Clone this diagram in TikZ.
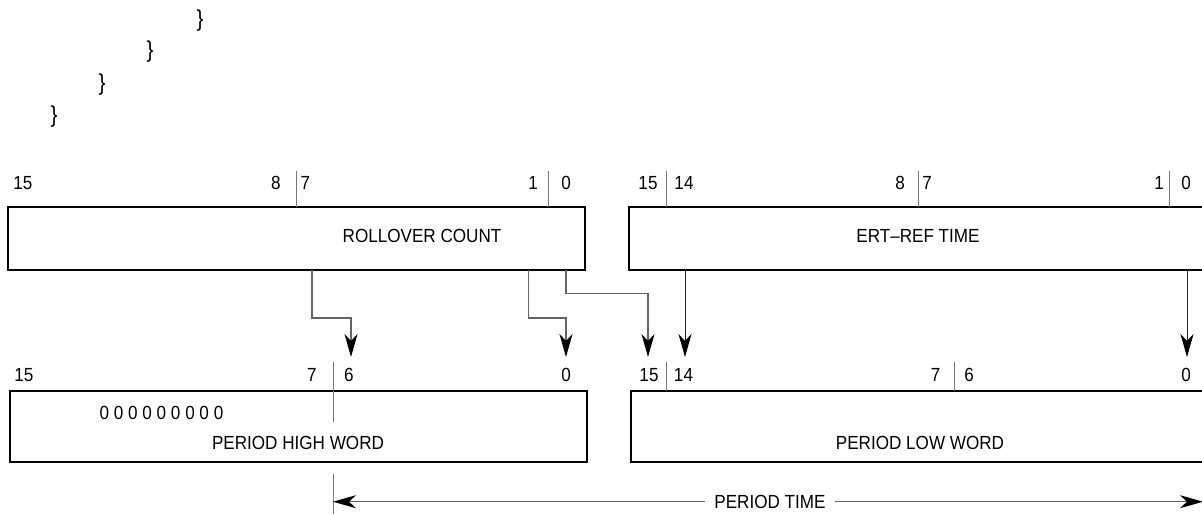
\documentclass[tikz,border=0pt]{standalone}
\usepackage{fontspec}
\setmainfont{Liberation Sans}[FakeStretch=0.9]
\usetikzlibrary{arrows.meta}
\definecolor{wire}{RGB}{100,100,100}
\definecolor{tickc}{RGB}{120,120,120}
\tikzset{
  regbox/.style={draw=black, line width=2.2pt, inner sep=0pt, outer sep=0pt, anchor=north west},
  lbl/.style={font=\fontsize{19}{21}\selectfont, inner sep=0pt, anchor=base},
  bracech/.style={font=\fontsize{23}{25}\selectfont, inner sep=0pt, anchor=center},
  tickline/.style={draw=tickc, line width=1pt},
  tipstyle/.style={-{Stealth[length=23pt,width=13pt,inset=7pt,color=black]}},
  wireline/.style={draw=wire, line width=1.2pt, tipstyle},
  darkwire/.style={draw=black!85, line width=1pt, tipstyle},
  dimline/.style={draw=wire, line width=1.2pt, tipstyle}
}
\begin{document}
\begin{tikzpicture}[x=1pt,y=-1pt]
\useasboundingbox (0,0) rectangle (1202,514);
\clip (0,0) rectangle (1202,514);

% closing braces
\node[bracech] (b1) at (200,21) {\}};
\node[bracech] (b2) at (150,52) {\}};
\node[bracech] (b3) at (102,85) {\}};
\node[bracech] (b4) at (54,117) {\}};

% registers
\node[regbox, minimum width=577pt, minimum height=63pt] (rc) at (8,207) {};
\node[regbox, minimum width=580pt, minimum height=63pt] (ert) at (629,207) {};
\node[regbox, minimum width=577pt, minimum height=71pt] (ph) at (10,391) {};
\node[regbox, minimum width=580pt, minimum height=71pt] (pl) at (631,391) {};

% register texts
\node[lbl] (trc) at (422,242.3) {ROLLOVER COUNT};
\node[lbl] (tert) at (918,242.3) {ERT–REF TIME};
\node[lbl] (tzero) at (161.5,419.5) {0 0 0 0 0 0 0 0 0};
\node[lbl] (tph) at (298,449.5) {PERIOD HIGH WORD};
\node[lbl] (tpl) at (920,449.5) {PERIOD LOW WORD};

% top bit numbers
\node[lbl] (a15) at (23,189) {15};
\node[lbl] (a8) at (276,189) {8};
\node[lbl] (a7) at (305.5,189) {7};
\node[lbl] (a1) at (533,189) {1};
\node[lbl] (a0) at (566,189) {0};
\node[lbl] (e15) at (648,189) {15};
\node[lbl] (e14) at (684,189) {14};
\node[lbl] (e8) at (900,189) {8};
\node[lbl] (e7) at (927,189) {7};
\node[lbl] (e1) at (1159,189) {1};
\node[lbl] (e0) at (1186,189) {0};

% bottom bit numbers
\node[lbl] (h15) at (24,381.7) {15};
\node[lbl] (h7) at (312,381.7) {7};
\node[lbl] (h6) at (349,381.7) {6};
\node[lbl] (h0) at (566,381.7) {0};
\node[lbl] (l15) at (649,381.7) {15};
\node[lbl] (l14) at (683.5,381.7) {14};
\node[lbl] (l7) at (935.5,381.7) {7};
\node[lbl] (l6) at (969,381.7) {6};
\node[lbl] (l0) at (1186,381.7) {0};

% separator ticks
\coordinate (ta) at (296,171);
\coordinate (tb) at (548,171);
\coordinate (tc) at (666,171);
\coordinate (td) at (918,171);
\coordinate (te) at (1169,171);
\foreach \t in {ta,tb,tc,td,te} \draw[tickline] (\t) -- (\t |- rc.north);
\coordinate (tf) at (333,362);
\coordinate (tfe) at (333,421.7);
\draw[tickline] (tf) -- (tfe);
\coordinate (tg) at (666,362);
\coordinate (th) at (954,362);
\foreach \t in {tg,th} \draw[tickline] (\t) -- (\t |- pl.north);
\coordinate (ti) at (333,474);
\coordinate (tie) at (333,514);
\draw[tickline] (ti) -- (tie);

% connectors
\coordinate (s1) at (312,270);
\coordinate (s2) at (528.5,270);
\coordinate (s3) at (566,270);
\coordinate (s4) at (685,270);
\coordinate (s5) at (1187,270);
\coordinate (d1) at (351,357);
\coordinate (d2) at (566,357);
\coordinate (d3) at (648,357);
\coordinate (d4) at (685,357);
\coordinate (d5) at (1187,357);
\draw[wireline] (s1) -- ++(0,48) -| (d1);
\draw[wireline] (s2) -- ++(0,48) -| (d2);
\draw[wireline] (s3) -- ++(0,23.5) -| (d3);
\draw[darkwire] (s4) -- (d4);
\draw[darkwire] (s5) -- (d5);

% period time dimension
\coordinate (ptL) at (333,501.7);
\coordinate (ptR) at (1203,501.7);
\node[lbl, inner xsep=9pt] (pt) at (770,508) {PERIOD TIME};
\draw[dimline] (pt.west |- ptL) -- (ptL);
\draw[dimline] (pt.east |- ptR) -- (ptR);
\end{tikzpicture}
\end{document}
